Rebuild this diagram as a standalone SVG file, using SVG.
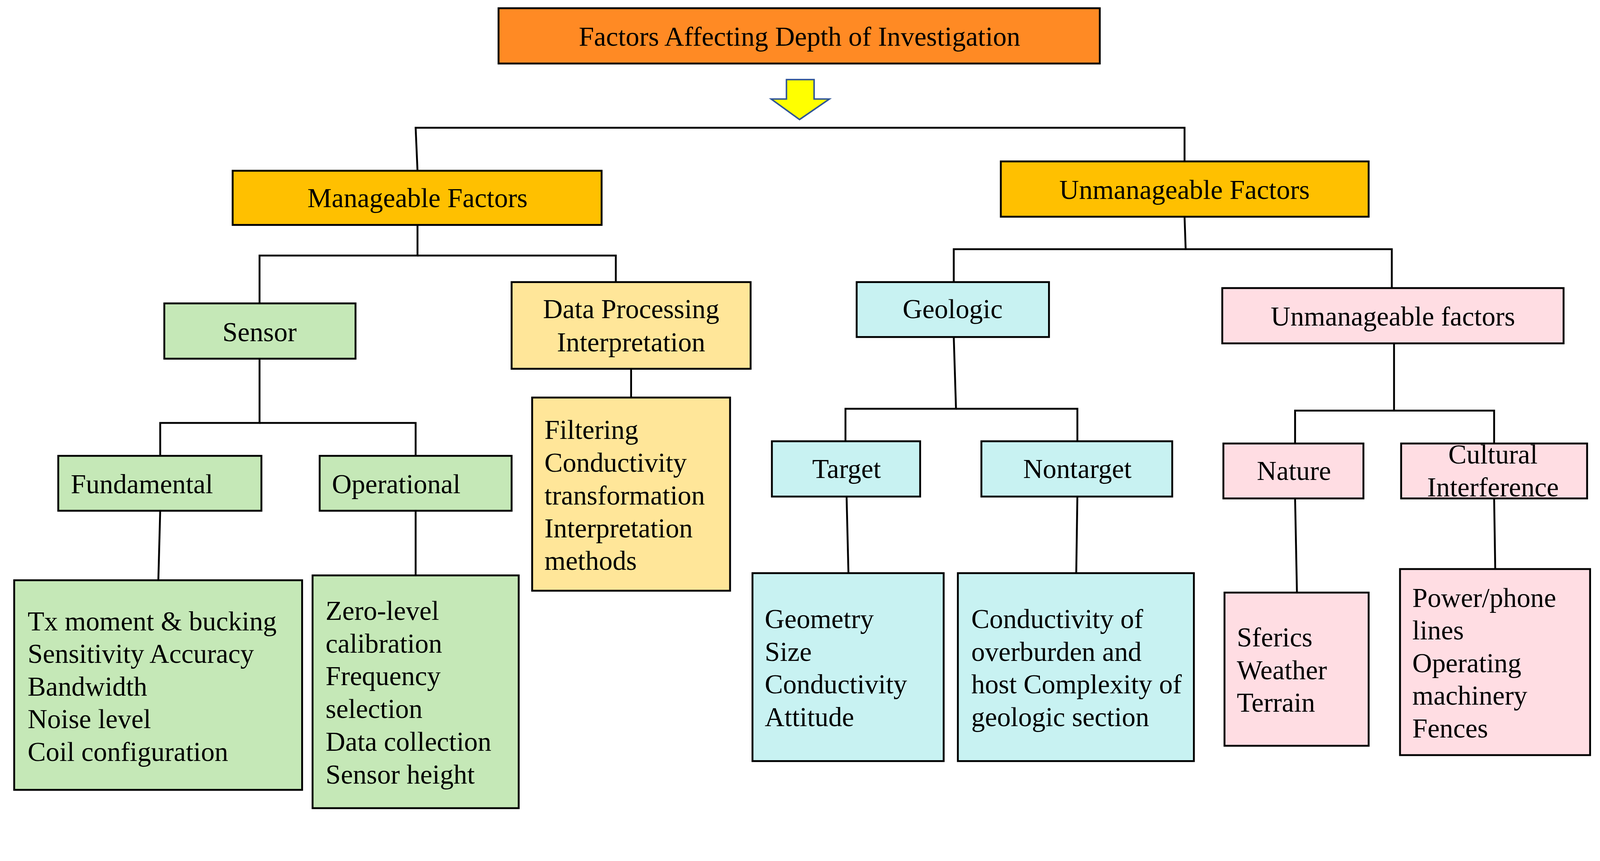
<svg xmlns="http://www.w3.org/2000/svg" width="4288" height="2203" viewBox="0 0 4288 2203">
<style>
.b{stroke:#000;stroke-width:5}
.t{font-family:"Liberation Serif","Times New Roman",serif;font-size:73px;fill:#000}
.c{text-anchor:middle}
.or{fill:#FF8A24}.am{fill:#FFC000}.gr{fill:#C5E8B7}.ye{fill:#FFE699}.cy{fill:#C8F2F2}.pk{fill:#FFDDE3}
</style>
<rect width="4288" height="2203" fill="#fff"/>
<g transform="scale(0.956)">
<g id="connectors" fill="none" stroke="#000" stroke-width="5">
<polyline points="1118,457 1113,342 3172,342 3172,432"/>
<polyline points="1118,602 1118,684 695,684 695,812"/>
<polyline points="1118,684 1649,684 1649,755"/>
<polyline points="695,960 695,1132 429,1132 429,1220"/>
<polyline points="695,1132 1113,1132 1113,1220"/>
<line x1="429" y1="1367" x2="424" y2="1553"/>
<line x1="1113" y1="1367" x2="1113" y2="1540"/>
<line x1="1690" y1="987" x2="1690" y2="1064"/>
<polyline points="3172,580 3175,667 2554,667 2554,755"/>
<polyline points="3175,667 3727,667 3727,771"/>
<polyline points="2554,902 2560,1094 2264,1094 2264,1181"/>
<polyline points="2560,1094 2885,1094 2885,1181"/>
<line x1="2267" y1="1329" x2="2272" y2="1534"/>
<line x1="2885" y1="1329" x2="2882" y2="1534"/>
<polyline points="3733,919 3733,1099 3468,1099 3468,1187"/>
<polyline points="3733,1099 4001,1099 4001,1187"/>
<line x1="3468" y1="1334" x2="3473" y2="1586"/>
<line x1="4001" y1="1334" x2="4004" y2="1523"/>
</g>
<g id="arrow"><polygon points="2106,213 2180,213 2180,265 2221,265 2141,320 2065,265 2106,265" fill="#FFFF00" stroke="#2F5597" stroke-width="4"/></g>
<g id="title"><rect class="b or" x="1335" y="22" width="1610" height="148"/><text class="t c" x="2141" y="122">Factors Affecting Depth of Investigation</text></g>
<g id="manageable"><rect class="b am" x="623" y="457" width="988" height="145"/><text class="t c" x="1118" y="554">Manageable Factors</text></g>
<g id="unmanageable"><rect class="b am" x="2680" y="432" width="985" height="148"/><text class="t c" x="3172" y="532">Unmanageable Factors</text></g>
<g id="sensor"><rect class="b gr" x="440" y="812" width="512" height="148"/><text class="t c" x="695" y="913">Sensor</text></g>
<g id="dataproc"><rect class="b ye" x="1370" y="755" width="640" height="232"/><text class="t c" x="1690" y="852">Data Processing</text><text class="t c" x="1690" y="940">Interpretation</text></g>
<g id="fundamental"><rect class="b gr" x="156" y="1220" width="544" height="147"/><text class="t c" x="380" y="1320">Fundamental</text></g>
<g id="operational"><rect class="b gr" x="856" y="1220" width="514" height="147"/><text class="t c" x="1061" y="1320">Operational</text></g>
<g id="fundlist"><rect class="b gr" x="38" y="1553" width="771" height="561"/>
<text class="t" x="74" y="1687">Tx moment &amp; bucking</text><text class="t" x="74" y="1774">Sensitivity Accuracy</text><text class="t" x="74" y="1862">Bandwidth</text><text class="t" x="74" y="1949">Noise level</text><text class="t" x="74" y="2037">Coil configuration</text></g>
<g id="oplist"><rect class="b gr" x="837" y="1540" width="552" height="623"/>
<text class="t" x="872" y="1659">Zero-level</text><text class="t" x="872" y="1747">calibration</text><text class="t" x="872" y="1834">Frequency</text><text class="t" x="872" y="1922">selection</text><text class="t" x="872" y="2009">Data collection</text><text class="t" x="872" y="2097">Sensor height</text></g>
<g id="datalist"><rect class="b ye" x="1425" y="1064" width="530" height="517"/>
<text class="t" x="1458" y="1175">Filtering</text><text class="t" x="1458" y="1263">Conductivity</text><text class="t" x="1458" y="1350">transformation</text><text class="t" x="1458" y="1438">Interpretation</text><text class="t" x="1458" y="1525">methods</text></g>
<g id="geologic"><rect class="b cy" x="2294" y="755" width="515" height="147"/><text class="t c" x="2551" y="852">Geologic</text></g>
<g id="unmanageable2"><rect class="b pk" x="3273" y="771" width="914" height="148"/><text class="t c" x="3730" y="871">Unmanageable factors</text></g>
<g id="target"><rect class="b cy" x="2067" y="1181" width="397" height="148"/><text class="t c" x="2267" y="1279">Target</text></g>
<g id="nontarget"><rect class="b cy" x="2628" y="1181" width="511" height="148"/><text class="t c" x="2885" y="1279">Nontarget</text></g>
<g id="targetlist"><rect class="b cy" x="2015" y="1534" width="512" height="503"/>
<text class="t" x="2048" y="1681">Geometry</text><text class="t" x="2048" y="1769">Size</text><text class="t" x="2048" y="1856">Conductivity</text><text class="t" x="2048" y="1944">Attitude</text></g>
<g id="nontargetlist"><rect class="b cy" x="2565" y="1534" width="632" height="503"/>
<text class="t" x="2601" y="1681">Conductivity of</text><text class="t" x="2601" y="1769">overburden and</text><text class="t" x="2601" y="1856">host Complexity of</text><text class="t" x="2601" y="1944">geologic section</text></g>
<g id="nature"><rect class="b pk" x="3276" y="1187" width="375" height="147"/><text class="t c" x="3465" y="1285">Nature</text></g>
<g id="cultural"><rect class="b pk" x="3752" y="1187" width="498" height="147"/><text class="t c" x="3998" y="1241">Cultural</text><text class="t c" x="3998" y="1328">Interference</text></g>
<g id="naturelist"><rect class="b pk" x="3279" y="1586" width="386" height="410"/>
<text class="t" x="3312" y="1730">Sferics</text><text class="t" x="3312" y="1818">Weather</text><text class="t" x="3312" y="1905">Terrain</text></g>
<g id="culturallist"><rect class="b pk" x="3749" y="1523" width="509" height="498"/>
<text class="t" x="3782" y="1624">Power/phone</text><text class="t" x="3782" y="1711">lines</text><text class="t" x="3782" y="1799">Operating</text><text class="t" x="3782" y="1886">machinery</text><text class="t" x="3782" y="1974">Fences</text></g>
</g>
</svg>
